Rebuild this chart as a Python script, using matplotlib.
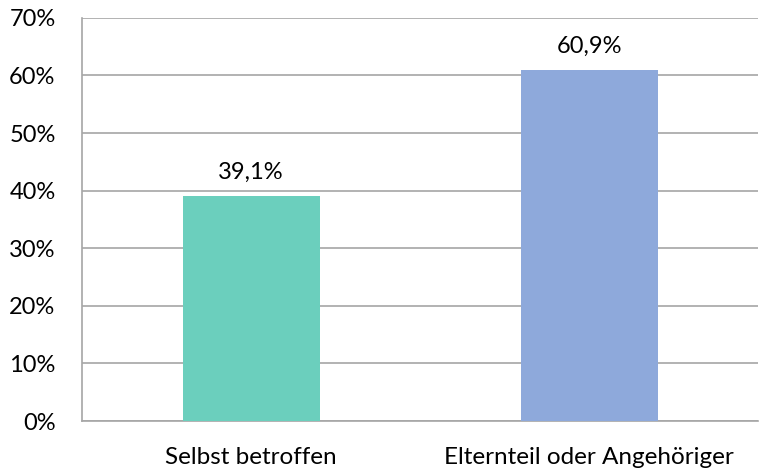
import matplotlib
matplotlib.use("Agg")
import matplotlib.pyplot as plt

# Daten
kategorien = ["Selbst betroffen", "Elternteil oder Angehöriger"]
werte = [39.1, 60.9]
farben = ["#6BCFBD", "#8EA9DB"]
y_ticks = [0, 10, 20, 30, 40, 50, 60, 70]

plt.rcParams['font.family'] = ['Lato', 'DejaVu Sans']

fig = plt.figure(figsize=(7.59, 4.71), dpi=100)
ax = fig.add_axes([0.108, 0.106, 0.891, 0.856])

x = range(len(kategorien))
ax.bar(x, werte, width=0.405, color=farben, zorder=3)

for xi, w in zip(x, werte):
    ax.text(xi, w + 2.3, ("%.1f%%" % w).replace(".", ","), ha="center",
            va="bottom", fontsize=17)

ax.set_xlim(-0.5, 1.5)
ax.set_ylim(0, 70)
ax.set_yticks(y_ticks)
ax.set_yticklabels(["%d%%" % t for t in y_ticks], fontsize=17)
ax.set_xticks(list(x))
ax.set_xticklabels(kategorien, fontsize=17.5)
ax.tick_params(axis="x", length=0, pad=19)
ax.tick_params(axis="y", length=0, pad=19)

ax.yaxis.grid(True, color="#A6A6A6", linewidth=1.2, zorder=0)
for s in ["top", "right"]:
    ax.spines[s].set_visible(False)
for s in ["left", "bottom"]:
    ax.spines[s].set_color("#A6A6A6")
    ax.spines[s].set_linewidth(1.2)

fig.savefig("out.png", dpi=100)
